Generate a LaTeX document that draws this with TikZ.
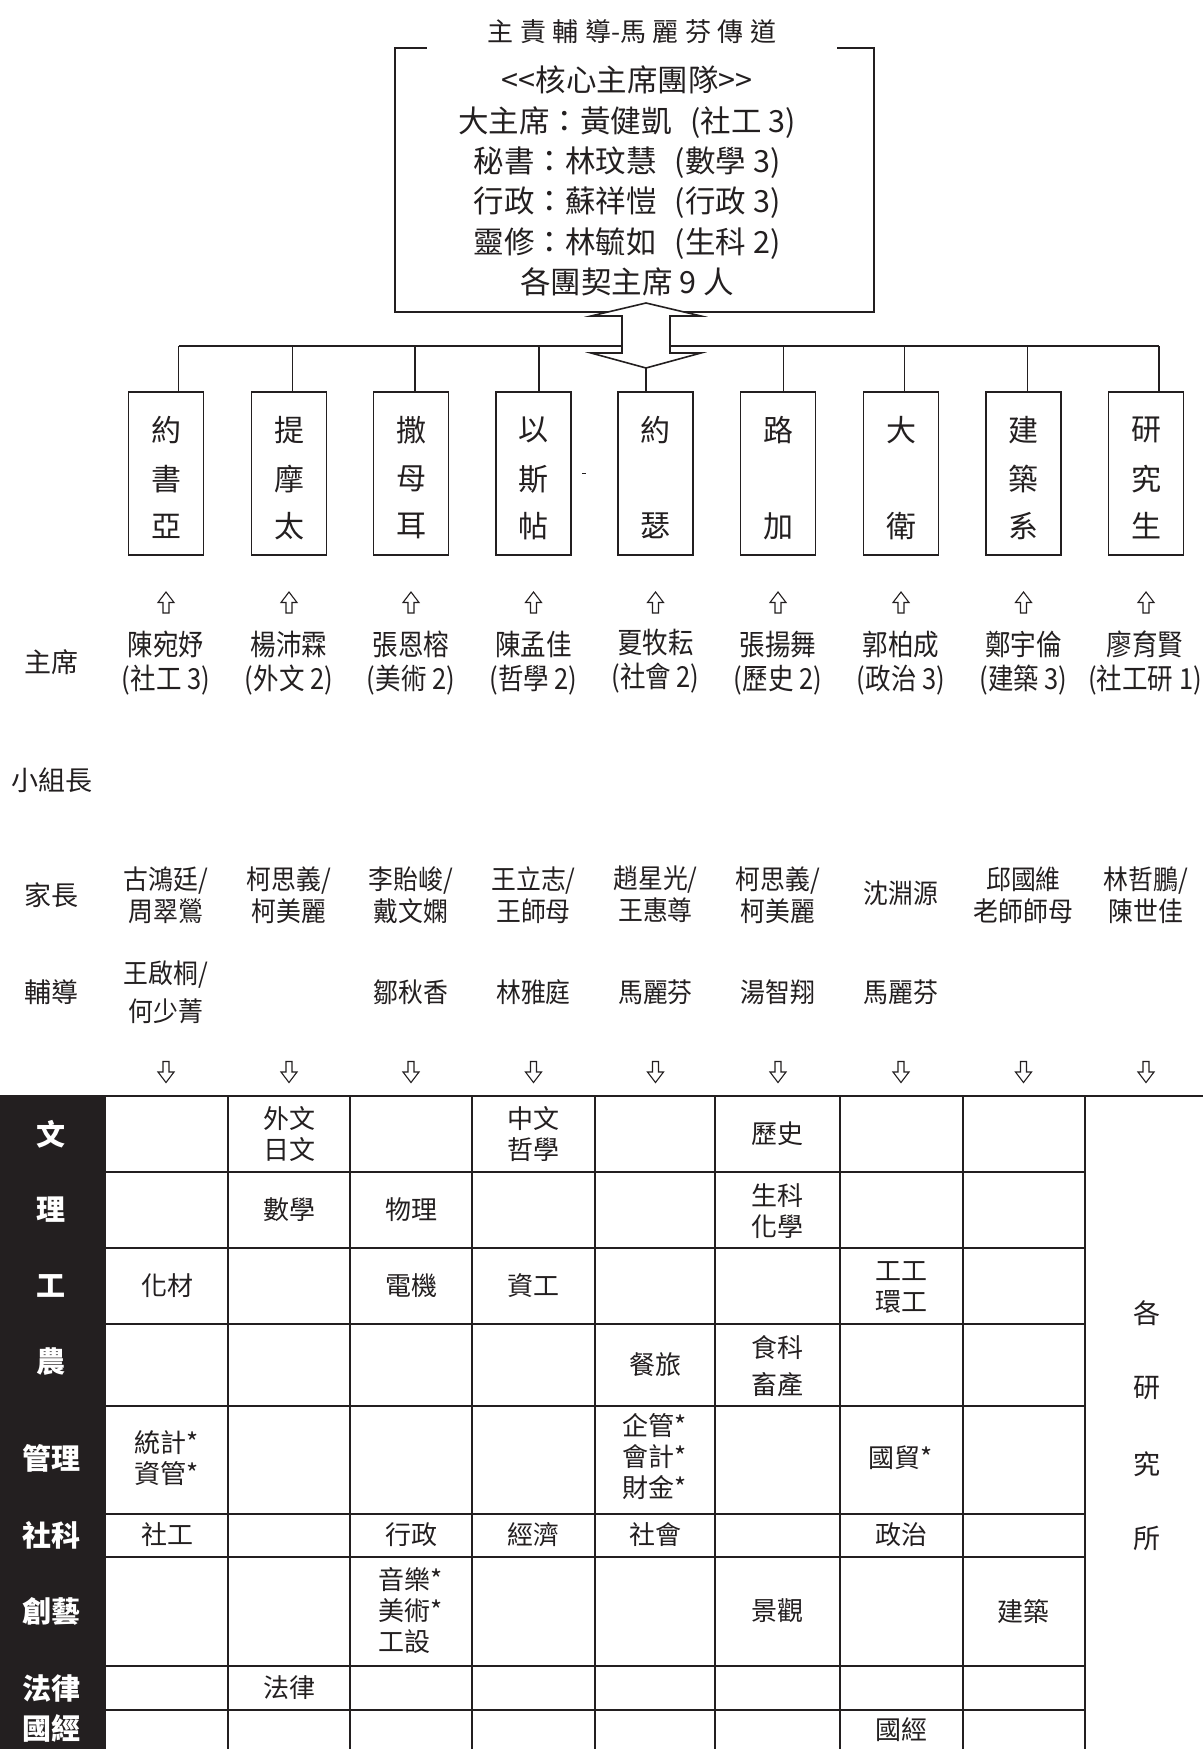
\documentclass[tikz,border=0pt]{standalone}
\usepackage{fontspec}
\setmainfont{Noto Sans CJK TC}
\newfontfamily\nmf[FakeStretch=0.88]{Noto Sans CJK TC}
\newfontfamily\pmf[FakeStretch=0.92]{Noto Sans CJK TC}
\newcommand\fsz[2]{\fontsize{#1}{#2}\selectfont}
\newcommand\tsp{\hspace{6.5pt}}
\definecolor{ink}{RGB}{35,31,32}
\begin{document}
\begin{tikzpicture}[x=1pt,y=-1pt,
  ttl/.style={font=\fsz{26}{30}, inner sep=0pt, text=ink},
  ctxt/.style={font=\fsz{30.5}{40.3}, align=center, inner sep=0pt, text=ink},
  boxline/.style={draw=ink, line width=1.6pt},
  vbox/.style={draw=ink, line width=1.6pt, minimum width=75pt, minimum height=163pt, inner sep=0pt},
  vch/.style={font=\fsz{30}{30}, inner sep=0pt, text=ink},
  chair/.style={font=\nmf\fsz{29}{33.5}, align=center, inner sep=0pt, text=ink},
  lbl/.style={font=\fsz{27}{30}, inner sep=0pt, text=ink},
  par/.style={font=\pmf\fsz{27}{32}, align=center, inner sep=0pt, text=ink},
  tcell/.style={font=\fsz{26}{31}, align=center, inner sep=0pt, text=ink},
  tcl/.style={font=\fsz{26}{31}, align=left, inner sep=0pt, text=ink},
  tlab/.style={font=\bfseries\fsz{29}{30}, inner sep=0pt, text=white},
  tline/.style={draw=ink, line width=2pt},
  uparr/.pic={\draw[ink, line width=1.1pt, line join=miter] (0,-10.5) -- (8,0) -- (3,0) -- (3,10.5) -- (-3,10.5) -- (-3,0) -- (-8,0) -- cycle;},
  dnarr/.pic={\draw[ink, line width=1.1pt, line join=miter] (0,10.5) -- (8,0) -- (3,0) -- (3,-10.5) -- (-3,-10.5) -- (-3,0) -- (-8,0) -- cycle;}
]
\useasboundingbox[fill=white] (0,0) rectangle (1203,1749);

% ---------- core team box ----------
\node[ttl] (title) at (632,32) {主\tsp 責\tsp 輔\tsp 導-馬\tsp 麗\tsp 芬\tsp 傳\tsp 道};
\node[minimum width=479pt, minimum height=264pt, inner sep=0pt] (core) at (634.5,180) {};
\draw[boxline] ([xshift=32pt]core.north west) -- (core.north west) -- (core.south west) -- (core.south east) -- (core.north east) -- ([xshift=-37pt]core.north east);
\node[ctxt] (coretext) at (627,181) {<\kern0pt<核心主席團隊>\kern0pt>\\
大主席：黃健凱\hspace{0.6em}(社工 3)\\
秘書：林玟慧\hspace{0.6em}(數學 3)\\
行政：蘇祥愷\hspace{0.6em}(行政 3)\\
靈修：林毓如\hspace{0.6em}(生科 2)\\
各團契主席 9 人};

% ---------- fellowship boxes ----------
\node[vbox] (b1) at (166,473.5) {};
\node[vbox] (b2) at (289,473.5) {};
\node[vbox] (b3) at (411,473.5) {};
\node[vbox] (b4) at (533.5,473.5) {};
\node[vbox] (b5) at (655.5,473.5) {};
\node[vbox] (b6) at (778,473.5) {};
\node[vbox] (b7) at (901,473.5) {};
\node[vbox] (b8) at (1023.5,473.5) {};
\node[vbox] (b9) at (1146,473.5) {};

\node[vch] (b1a) at (166,430) {約}; \node[vch] (b1b) at (166,479) {書}; \node[vch] (b1c) at (166,526) {亞};
\node[vch] (b2a) at (289,430) {提}; \node[vch] (b2b) at (289,479) {摩}; \node[vch] (b2c) at (289,526) {太};
\node[vch] (b3a) at (411,430) {撒}; \node[vch] (b3b) at (411,479) {母}; \node[vch] (b3c) at (411,526) {耳};
\node[vch] (b4a) at (533.5,430) {以}; \node[vch] (b4b) at (533.5,479) {斯}; \node[vch] (b4c) at (533.5,526) {帖};
\node[vch] (b5a) at (655.5,430) {約}; \node[vch] (b5c) at (655.5,526) {瑟};
\node[vch] (b6a) at (778,430) {路}; \node[vch] (b6c) at (778,526) {加};
\node[vch] (b7a) at (901,430) {大}; \node[vch] (b7c) at (901,526) {衛};
\node[vch] (b8a) at (1023.5,430) {建}; \node[vch] (b8b) at (1023.5,479) {築}; \node[vch] (b8c) at (1023.5,526) {系};
\node[vch] (b9a) at (1146,430) {研}; \node[vch] (b9b) at (1146,479) {究}; \node[vch] (b9c) at (1146,526) {生};

% stray mark
\draw[ink, line width=1pt] (582,473) -- (586,473);

% ---------- bus and connectors ----------
\coordinate (k1) at (178.6,346);
\coordinate (k2) at (292.5,346);
\coordinate (k3) at (415,346);
\coordinate (k4) at (539,346);
\coordinate (k6) at (783.5,346);
\coordinate (k7) at (904.5,346);
\coordinate (k8) at (1027.5,346);
\coordinate (k9) at (1158.7,346);
\draw[boxline] (k1) -- (k9);
\foreach \k in {1,2,3,4,6,7,8,9}{
  \draw[boxline] (k\k) -- (k\k |- b\k.north);
}
% double arrow
\coordinate (atop) at (646,303);
\coordinate (atip) at (646,368);
\draw[boxline, fill=white, line join=miter] (atop) -- (701,316) -- (670,316) -- (670,353) -- (701,353) -- (atip) -- (591,353) -- (622,353) -- (622,316) -- (591,316) -- cycle;
\draw[boxline] (atip) -- (atip |- b5.north);

% ---------- up arrows and chairs ----------
\foreach \x in {166,289,411,533.5,655.5,778,901,1023.5,1146}{
  \pic at (\x,602.5) {uparr};
  \pic at (\x,1072) {dnarr};
}
\node[lbl] (lchair) at (51,662) {主席};
\node[chair] (c1) at (166,663) {陳宛妤\\(社工 3)};
\node[chair] (c2) at (289,663) {楊沛霖\\(外文 2)};
\node[chair] (c3) at (411,663) {張恩榕\\(美術 2)};
\node[chair] (c4) at (533.5,663) {陳孟佳\\(哲學 2)};
\node[chair] (c5) at (655.5,661) {夏牧耘\\(社會 2)};
\node[chair] (c6) at (778,663) {張揚舞\\(歷史 2)};
\node[chair] (c7) at (901,663) {郭柏成\\(政治 3)};
\node[chair] (c8) at (1023.5,663) {鄭宇倫\\(建築 3)};
\node[chair] (c9) at (1145,663) {廖育賢\\(社工研 1)};

\node[lbl] (lgroup) at (52,780) {小組長};

% ---------- parents ----------
\node[lbl] (lparent) at (51,895) {家長};
\node[par] (p1) at (166,895) {古鴻廷/\\周翠鶯};
\node[par] (p2) at (289,895) {柯思義/\\柯美麗};
\node[par] (p3) at (411,895) {李貽峻/\\戴文嫻};
\node[par] (p4) at (533.5,895) {王立志/\\王師母};
\node[par] (p5) at (655.5,894) {趙星光/\\王惠尊};
\node[par] (p6) at (778,895) {柯思義/\\柯美麗};
\node[par] (p7) at (901,893) {沈淵源};
\node[par] (p8) at (1023.5,895) {邱國維\\老師師母};
\node[par] (p9) at (1146,895) {林哲鵬/\\陳世佳};

% ---------- counselors ----------
\node[lbl] (lcoun) at (51,992) {輔導};
\node[par] (g1) at (166,992) {王啟桐/\\[6pt]何少菁};
\node[par] (g3) at (411,992) {鄒秋香};
\node[par] (g4) at (533.5,992) {林雅庭};
\node[par] (g5) at (655.5,992) {馬麗芬};
\node[par] (g6) at (778,992) {湯智翔};
\node[par] (g7) at (901,992) {馬麗芬};

% ---------- table ----------
\fill[ink] (0,1096) rectangle (106,1749);
\draw[tline] (0,1096) -- (1203,1096);
\foreach \y in {1172,1248,1324,1406,1514,1557,1666,1710}{
  \draw[tline] (106,\y) -- (1085,\y);
}
\foreach \x in {228,350,472,594.5,715,840,962.5,1085}{
  \draw[tline] (\x,1096) -- (\x,1749);
}

\node[tlab] (t1) at (51,1134) {文};
\node[tlab] (t2) at (51,1210) {理};
\node[tlab] (t3) at (51,1286) {工};
\node[tlab] (t4) at (51,1362) {農};
\node[tlab] (t5) at (51,1458) {管理};
\node[tlab] (t6) at (51,1535) {社科};
\node[tlab] (t7) at (51,1611) {創藝};
\node[tlab] (t8) at (51,1688) {法律};
\node[tlab] (t9) at (51,1728) {國經};

\node[tcell] (x12) at (289,1134) {外文\\日文};
\node[tcell] (x14) at (533.5,1134) {中文\\哲學};
\node[tcell] (x16) at (777.5,1134) {歷史};

\node[tcell] (x22) at (289,1210) {數學};
\node[tcell] (x23) at (411,1210) {物理};
\node[tcell] (x26) at (777.5,1211) {生科\\化學};

\node[tcell] (x31) at (167,1286) {化材};
\node[tcell] (x33) at (411,1286) {電機};
\node[tcell] (x34) at (533.5,1286) {資工};
\node[tcell] (x37) at (901,1288) {工工\\環工};

\node[tcell] (x45) at (655,1365) {餐旅};
\node[tcell] (x46) at (777.5,1366) {食科\\[6pt]畜產};

\node[tcl] (x51) at (167,1458) {統計*\\資管*};
\node[tcl] (x55) at (655,1456) {企管*\\會計*\\財金*};
\node[tcell] (x57) at (901,1458) {國貿*};

\node[tcell] (x61) at (167,1535) {社工};
\node[tcell] (x63) at (411,1535) {行政};
\node[tcell] (x64) at (533.5,1535) {經濟};
\node[tcell] (x65) at (655,1535) {社會};
\node[tcell] (x67) at (901,1535) {政治};

\node[tcl] (x73) at (411,1610) {音樂*\\美術*\\工設};
\node[tcell] (x76) at (777.5,1611) {景觀};
\node[tcell] (x78) at (1023.75,1611) {建築};

\node[tcell] (x82) at (289,1688) {法律};
\node[tcell] (x97) at (901,1730) {國經};

\node[lbl] (r1) at (1147,1313) {各};
\node[lbl] (r2) at (1147,1388) {研};
\node[lbl] (r3) at (1147,1464) {究};
\node[lbl] (r4) at (1147,1538) {所};
\end{tikzpicture}
\end{document}
